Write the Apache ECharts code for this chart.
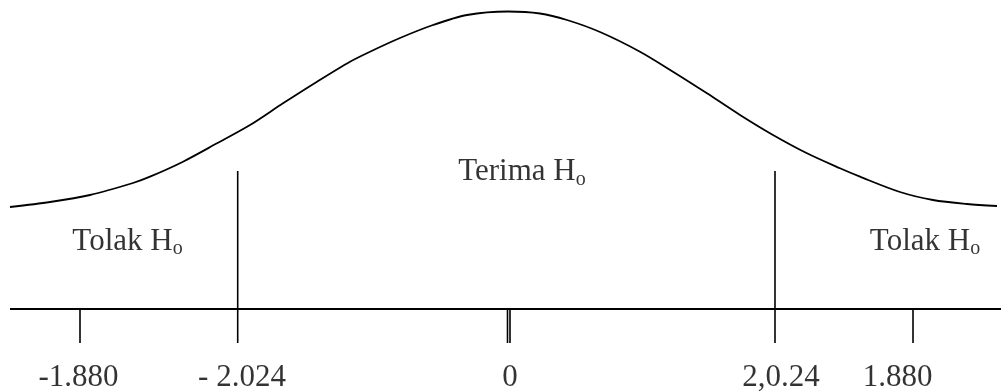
<!DOCTYPE html>
<html><head><meta charset="utf-8">
<script src="https://cdn.jsdelivr.net/npm/echarts@6/dist/echarts.min.js"></script>
<style>html,body{margin:0;padding:0;background:#fff}#c{width:1001px;height:392px}</style>
</head><body><div id="c"></div>
<script>
// Density curve (x position on the axis, height above the axis)
const curveX = [10, 50, 90, 133, 150, 183, 217, 250, 283, 317, 350, 370, 400, 433, 467, 508, 540, 567, 600, 640, 673, 707, 740, 773, 807, 840, 860, 900, 933, 967, 997];
const curveH = [102, 107, 114, 126, 132.3, 147.3, 165.7, 184, 205.7, 227.3, 247.3, 257.3, 271, 284, 294, 297.5, 295.5, 289, 277, 257.3, 237.3, 215.7, 194, 174, 155.7, 140.7, 132.3, 117, 109, 105, 103];

// Critical-value boundaries and axis ticks
const boundaryX = [237.7, 775];
const boundaryTop = 138;
const tickX = [80, 507.5, 510, 913];
const tickBottom = -34;
const axisRange = [10, 1001];

// Tick labels
const tickLabels = ['-1.880', '- 2.024', '0', '2,0.24', '1.880'];
const tickLabelX = [78.5, 242, 510, 781, 897.5];
const tickLabelLevel = -69.3;

// Region labels
const regionLabels = ['Tolak H', 'Terima H', 'Tolak H'];
const regionSub = ['o', 'o', 'o'];
const regionX = [127.5, 522, 925];
const regionLevel = [67, 136.7, 67];

const FONT = "'Liberation Serif', 'Times New Roman', serif";
const black = '#000';

const lineSeries = (data, width) => ({
  type: 'line', data, symbol: 'none', silent: true, animation: false,
  lineStyle: { color: black, width }
});

const series = [];
series.push(Object.assign(lineSeries(curveX.map((x, i) => [x, curveH[i]]), 1.8), { smooth: 0.3 }));
series.push(lineSeries([[axisRange[0], 0], [axisRange[1], 0]], 2));
boundaryX.forEach(x => series.push(lineSeries([[x, boundaryTop], [x, tickBottom]], 1.6)));
tickX.forEach(x => series.push(lineSeries([[x, 0], [x, tickBottom]], 1.6)));

series.push({
  type: 'scatter', symbolSize: 0, silent: true, animation: false,
  data: tickLabels.map((t, i) => ({ value: [tickLabelX[i], tickLabelLevel], name: t })),
  label: {
    show: true, position: 'inside', formatter: p => p.name,
    fontFamily: FONT, fontSize: 31, color: black, textBorderWidth: 0
  }
});

series.push({
  type: 'scatter', symbolSize: 0, silent: true, animation: false,
  data: regionLabels.map((t, i) => ({ value: [regionX[i], regionLevel[i]], name: t, sub: regionSub[i] })),
  label: {
    show: true, position: 'inside', color: black, textBorderWidth: 0,
    formatter: p => '{m|' + p.data.name + '}{s|' + p.data.sub + '}',
    rich: {
      m: { fontFamily: FONT, fontSize: 31, color: black, lineHeight: 34, verticalAlign: 'middle' },
      s: { fontFamily: FONT, fontSize: 20, color: black, lineHeight: 34, verticalAlign: 'bottom' }
    }
  }
});

const chart = echarts.init(document.getElementById('c'), null, { renderer: 'canvas' });
chart.setOption({
  backgroundColor: '#fff',
  animation: false,
  grid: { left: 0, right: 0, top: 0, bottom: 0 },
  xAxis: { type: 'value', min: 0, max: 1001, show: false },
  yAxis: { type: 'value', min: -83, max: 309, show: false },
  series
});
</script></body></html>
